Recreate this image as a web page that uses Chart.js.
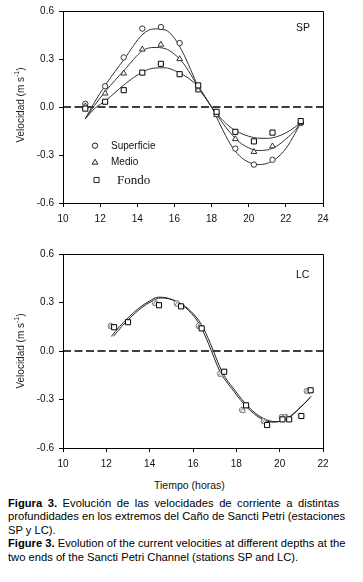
<!DOCTYPE html>
<html><head><meta charset="utf-8">
<script src="https://cdn.jsdelivr.net/npm/chart.js@4.4.0/dist/chart.umd.min.js"></script>
<style>
html,body{margin:0;padding:0;background:#fff;width:363px;height:582px;overflow:hidden;font-family:"Liberation Sans",Arial,sans-serif;}
canvas{position:absolute;left:0;}
#c1{top:0}
#c2{top:235px}
.t{position:absolute;color:#111;white-space:nowrap;line-height:1;}
.ytitle{position:absolute;transform:translate(-50%,-50%) rotate(-90deg);font-size:10px;white-space:nowrap;color:#222;line-height:1;}
.ytitle sup{font-size:7px;vertical-align:5px;line-height:0;}
.cap{position:absolute;left:8px;top:496.5px;width:331px;font-size:11.2px;line-height:13.6px;color:#000;}
.cap div{text-align:justify;text-align-last:justify;white-space:nowrap;}
.cap div.last{text-align-last:left;}
</style></head><body>
<canvas id="c1" width="363" height="230"></canvas>
<canvas id="c2" width="363" height="240"></canvas>

<div class="ytitle" style="left:21px;top:105px">Velocidad (m s<sup>-1</sup>)</div>
<div class="ytitle" style="left:21px;top:351px">Velocidad (m s<sup>-1</sup>)</div>
<div class="t" style="left:296px;top:22px;font-size:10.5px">SP</div>
<div class="t" style="left:296px;top:269px;font-size:10.5px">LC</div>
<div class="t" style="left:111px;top:140.5px;font-size:10px">Superficie</div>
<div class="t" style="left:111px;top:157px;font-size:10px">Medio</div>
<div class="t" style="left:117px;top:173px;font-size:13px;font-family:'Liberation Serif','Times New Roman',serif">Fondo</div>
<div class="t" style="left:154px;top:480px;font-size:10.5px">Tiempo (horas)</div>

<div class="cap">
<div><b>Figura 3.</b> Evolución de las velocidades de corriente a distintas</div>
<div>profundidades en los extremos del Caño de Sancti Petri (estaciones</div>
<div class="last">SP y LC).</div>
<div><b>Figure 3.</b> Evolution of the current velocities at different depths at the</div>
<div class="last">two ends of the Sancti Petri Channel (stations SP and LC).</div>
</div>

<script>
// ---------- Data: station SP ----------
const spHours      = [11.2, 12.27, 13.27, 14.27, 15.27, 16.28, 17.28, 18.27, 19.28, 20.28, 21.28, 22.8];
const spSuperficie = [0.02, 0.13, 0.31, 0.49, 0.50, 0.40, 0.11, -0.045, -0.26, -0.36, -0.33, -0.10];
const spMedio      = [0.005, 0.085, 0.21, 0.36, 0.39, 0.30, 0.105, -0.05, -0.20, -0.28, -0.245, -0.10];
const spFondo      = [-0.01, 0.033, 0.105, 0.215, 0.27, 0.205, 0.135, -0.03, -0.155, -0.215, -0.16, -0.088];

const spFitHours      = [11.2, 11.7, 12.3, 13.3, 14.3, 14.9, 15.5, 16.0, 16.5, 17.0, 17.3, 17.65, 18.0, 18.5, 19.0, 19.5, 20.0, 20.5, 21.0, 21.5, 22.0, 22.5, 22.8];
const spFitSuperficie = [-0.074, 0.03, 0.14, 0.30, 0.455, 0.488, 0.482, 0.43, 0.33, 0.20, 0.12, 0.06, 0.0, -0.12, -0.23, -0.305, -0.345, -0.36, -0.352, -0.32, -0.26, -0.165, -0.10];
const spFitMedio      = [-0.074, 0.01, 0.10, 0.23, 0.353, 0.372, 0.365, 0.33, 0.27, 0.18, 0.12, 0.06, 0.0, -0.085, -0.16, -0.22, -0.255, -0.272, -0.268, -0.245, -0.20, -0.145, -0.10];
const spFitFondo      = [-0.074, -0.01, 0.04, 0.14, 0.22, 0.243, 0.245, 0.228, 0.20, 0.158, 0.125, 0.065, 0.0, -0.07, -0.125, -0.16, -0.183, -0.195, -0.196, -0.186, -0.162, -0.125, -0.10];

const spXTicks = [10, 12, 14, 16, 18, 20, 22, 24];

// ---------- Data: station LC ----------
const lcSupHours   = [12.2, 14.24, 15.25, 16.27, 17.25, 18.27, 19.27, 20.1, 20.27, 21.25];
const lcSuperficie = [0.155, 0.30, 0.295, 0.156, -0.14, -0.365, -0.433, -0.408, -0.408, -0.247];
const lcMedHours   = [12.22, 14.27, 15.28, 16.3, 17.28, 18.3, 19.3, 20.13, 20.3, 21.28];
const lcMedio      = [0.15, 0.292, 0.288, 0.15, -0.146, -0.37, -0.44, -0.414, -0.414, -0.252];
const lcFonHours   = [12.36, 13.0, 14.43, 15.45, 16.4, 17.44, 18.45, 19.42, 20.13, 20.44, 21.0, 21.43];
const lcFondo      = [0.147, 0.178, 0.283, 0.276, 0.14, -0.128, -0.336, -0.458, -0.423, -0.423, -0.402, -0.243];

const lcFitAHours = [12.23, 12.6, 13.0, 13.5, 14.0, 14.4, 14.8, 15.3, 15.8, 16.3, 16.7, 17.24, 17.86, 18.47, 19.1, 19.7, 20.24, 20.78, 21.4];
const lcFitA      = [0.09, 0.15, 0.205, 0.265, 0.31, 0.333, 0.328, 0.30, 0.25, 0.165, 0.05, -0.125, -0.245, -0.345, -0.415, -0.44, -0.425, -0.37, -0.29];
const lcFitBHours = [12.33, 12.7, 13.1, 13.6, 14.1, 14.5, 14.9, 15.4, 15.9, 16.4, 16.8, 17.34, 17.96, 18.57, 19.2, 19.8, 20.34, 20.88, 21.46];
const lcFitB      = [0.09, 0.15, 0.205, 0.265, 0.308, 0.328, 0.323, 0.296, 0.246, 0.162, 0.047, -0.128, -0.248, -0.347, -0.414, -0.437, -0.42, -0.36, -0.28];

const lcXTicks = [10, 12, 14, 16, 18, 20, 22];
const yTicks = [-0.6, -0.3, 0.0, 0.3, 0.6];

// ---------- helpers ----------
const pts = (xs, ys) => xs.map((x, i) => ({x: x, y: ys[i]}));
Chart.defaults.font.family = "'Liberation Sans', Arial, sans-serif";
Chart.defaults.font.size = 10;
Chart.defaults.color = '#111';

const framePlugin = {
  id: 'frame',
  afterDraw(chart) {
    const {ctx, chartArea: a} = chart;
    ctx.save();
    ctx.strokeStyle = '#000';
    ctx.lineWidth = 1;
    ctx.beginPath();
    ctx.moveTo(a.left, Math.round(a.top) + 0.5);
    ctx.lineTo(Math.round(a.right) + 0.5, Math.round(a.top) + 0.5);
    ctx.lineTo(Math.round(a.right) + 0.5, a.bottom);
    ctx.stroke();
    ctx.restore();
  }
};

function drawMarker(ctx, style, r, x, y) {
  ctx.beginPath();
  if (style === 'circle') {
    ctx.arc(x, y, r, 0, Math.PI * 2);
  } else if (style === 'triangle') {
    ctx.moveTo(x, y - r);
    ctx.lineTo(x + r * 0.866, y + r * 0.5);
    ctx.lineTo(x - r * 0.866, y + r * 0.5);
    ctx.closePath();
  } else {
    const s = r * Math.SQRT1_2;
    ctx.rect(x - s, y - s, 2 * s, 2 * s);
  }
  ctx.fill();
  ctx.stroke();
}

const legendPlugin = {
  id: 'legendMarkers',
  afterDatasetsDraw(chart) {
    const ctx = chart.ctx;
    ctx.save();
    ctx.fillStyle = '#fff';
    ctx.strokeStyle = '#222';
    ctx.lineWidth = 1;
    drawMarker(ctx, 'circle', 2.7, 95, 145.7);
    drawMarker(ctx, 'triangle', 3.3, 95, 162.5);
    drawMarker(ctx, 'rect', 3.6, 96.5, 180);
    ctx.restore();
  }
};

function scalesFor(xTicks, yW, xH) {
  const tickSet = (arr) => function(scale) { scale.ticks = arr.map(v => ({value: v})); };
  return {
    x: {
      type: 'linear', min: xTicks[0], max: xTicks[xTicks.length - 1],
      afterBuildTicks: tickSet(xTicks),
      afterFit(s) { s.height = xH; },
      grid: {drawOnChartArea: false, drawTicks: true, tickLength: 4, color: '#000'},
      border: {display: true, color: '#000', width: 1},
      ticks: {padding: 6, color: '#111', font: {size: 10}, callback: v => String(v)}
    },
    y: {
      type: 'linear', min: -0.6, max: 0.6,
      afterBuildTicks: tickSet(yTicks),
      afterFit(s) { s.width = yW; },
      grid: {drawOnChartArea: false, drawTicks: true, tickLength: 4, color: '#000'},
      border: {display: true, color: '#000', width: 1},
      ticks: {padding: 5, color: '#111', font: {size: 10}, callback: v => Number(v).toFixed(1)}
    }
  };
}

const lineDs = (data, color, extra) => Object.assign({
  type: 'line', data: data, borderColor: color, borderWidth: 1, pointRadius: 0,
  fill: false, cubicInterpolationMode: 'monotone', order: 5
}, extra || {});
const markDs = (data, style, r, stroke, order) => ({
  type: 'scatter', data: data, pointStyle: style, pointRadius: r, pointHoverRadius: r,
  pointBorderWidth: 1, pointBorderColor: stroke, pointBackgroundColor: '#fff', showLine: false, order: order
});
const zeroDs = (xt) => lineDs(pts([xt[0], xt[xt.length - 1]], [0, 0]), '#000',
  {borderDash: [8, 3.5], borderWidth: 1.4, cubicInterpolationMode: 'default', tension: 0, order: 6});

// ---------- Chart SP ----------
new Chart(document.getElementById('c1'), {
  type: 'scatter',
  data: {
    datasets: [
      zeroDs(spXTicks),
      lineDs(pts(spFitHours, spFitSuperficie), '#333'),
      lineDs(pts(spFitHours, spFitMedio), '#333'),
      lineDs(pts(spFitHours, spFitFondo), '#333'),
      markDs(pts(spHours, spSuperficie), 'circle', 2.7, '#333', 3),
      markDs(pts(spHours, spMedio), 'triangle', 3.3, '#333', 2),
      markDs(pts(spHours, spFondo), 'rect', 3.6, '#000', 1)
    ]
  },
  options: {
    responsive: false, animation: false, devicePixelRatio: 1,
    layout: {padding: {top: 8, right: 40, left: 0, bottom: 0}},
    plugins: {legend: {display: false}, tooltip: {enabled: false}},
    scales: scalesFor(spXTicks, 63, 27)
  },
  plugins: [framePlugin, legendPlugin]
});

// ---------- Chart LC ----------
new Chart(document.getElementById('c2'), {
  type: 'scatter',
  data: {
    datasets: [
      zeroDs(lcXTicks),
      lineDs(pts(lcFitAHours, lcFitA), '#222'),
      lineDs(pts(lcFitBHours, lcFitB), '#222'),
      markDs(pts(lcSupHours, lcSuperficie), 'circle', 2.7, '#777', 3),
      markDs(pts(lcMedHours, lcMedio), 'triangle', 3.0, '#888', 2),
      markDs(pts(lcFonHours, lcFondo), 'rect', 3.6, '#000', 1)
    ]
  },
  options: {
    responsive: false, animation: false, devicePixelRatio: 1,
    layout: {padding: {top: 19, right: 40, left: 0, bottom: 0}},
    plugins: {legend: {display: false}, tooltip: {enabled: false}},
    scales: scalesFor(lcXTicks, 63, 27)
  },
  plugins: [framePlugin]
});
</script>
</body></html>
